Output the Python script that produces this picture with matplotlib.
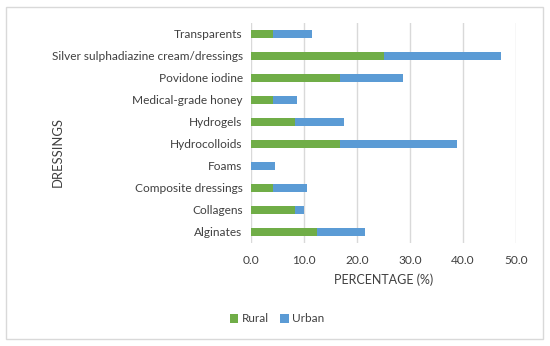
import matplotlib.pyplot as plt
from matplotlib.patches import Rectangle
import numpy as np

# Datos (de abajo hacia arriba, como en el gráfico)
categorias = ['Alginates', 'Collagens', 'Composite dressings', 'Foams', 'Hydrocolloids',
              'Hydrogels', 'Medical-grade honey', 'Povidone iodine',
              'Silver sulphadiazine cream/dressings', 'Transparents']
rural = [12.5, 8.3, 4.2, 0.0, 16.7, 8.3, 4.2, 16.7, 25.0, 4.2]
urban = [9.1, 1.7, 6.3, 4.5, 22.2, 9.2, 4.5, 12.0, 22.2, 7.3]
xticks = [0, 10, 20, 30, 40, 50]

plt.rcParams['font.family'] = ['Lato', 'DejaVu Sans']
texto = '#404040'

fig = plt.figure(figsize=(5.5, 3.46), dpi=100)
ax = fig.add_axes([251 / 550, 1 - 243 / 346, (516 - 251) / 550, 220 / 346])

y = np.arange(len(categorias))
ax.barh(y, rural, height=0.32, color='#70AD47', label='Rural', zorder=3)
ax.barh(y, urban, left=rural, height=0.32, color='#5B9BD5', label='Urban', zorder=3)

ax.set_xlim(0, 50)
ax.set_ylim(-0.5, len(categorias) - 0.5)
ax.set_xticks(xticks)
ax.set_xticklabels([f'{v:.1f}' for v in xticks])
ax.set_yticks(y)
ax.set_yticklabels(categorias)
ax.tick_params(axis='both', length=0, labelsize=8.6, colors=texto)
ax.tick_params(axis='x', pad=9)
ax.tick_params(axis='y', pad=6)
ax.grid(axis='x', color='#d9d9d9', linewidth=1, zorder=0)
for s in ax.spines.values():
    s.set_visible(False)

ax.set_xlabel('PERCENTAGE (%)', fontsize=9, color=texto, labelpad=5)
fig.text(58 / 550, 1 - 152 / 346, 'DRESSINGS', rotation=90, fontsize=9.4,
         color=texto, ha='center', va='center')

fig.legend(loc='center', bbox_to_anchor=(277 / 550, 1 - 319 / 346), ncol=2,
           frameon=False, fontsize=8.5, handlelength=0.7, handleheight=0.7,
           handletextpad=0.3, columnspacing=1.0, labelcolor=texto)

# Borde del área del gráfico
fig.patches.append(Rectangle((6 / 550, 7 / 346), 537 / 550, 332 / 346,
                             transform=fig.transFigure, fill=False,
                             edgecolor='#d9d9d9', linewidth=1))

fig.savefig('out.png', dpi=100)
